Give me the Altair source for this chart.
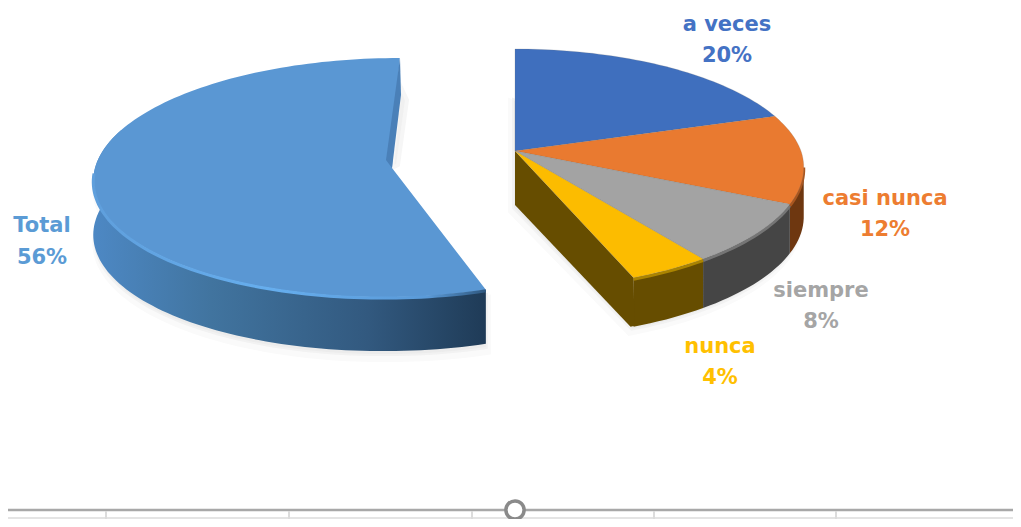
import math
import altair as alt

# Chart values
categories = ["a veces", "casi nunca", "siempre", "nunca", "Total"]
shares = [20, 12, 8, 4, 56]
percent_labels = ["20%", "12%", "8%", "4%", "56%"]
top_colors = ["#3f6fbe", "#e97a30", "#a3a3a3", "#fcbc00", "#5a97d3"]
wall_colors = ["#2c4f8c", "#6e3710", "#454545", "#664d00", "#2f5880"]
bevel_colors = ["#3f6fbe", "#a9561f", "#757575", "#ab8400", "#5a97d3"]
label_colors = ["#4472c4", "#ed7d31", "#a5a5a5", "#ffc000", "#5b9bd5"]
label_x = [727, 885, 821, 720, 42]
label_y = [25, 199, 291, 347, 226]
value_y = [56, 230, 322, 378, 258]
grid_ticks = [106, 289, 472, 654, 836]

OFF = 8  # page margin


def rim_point(turn, cx, cy, c, a, k, shear=0.0, squeeze=1.0, shear_low=0.0):
    """Position on the tilted disc rim for a fraction of a full turn (clockwise from top)."""
    t = 2 * math.pi * (1 - (1 - turn) * squeeze)
    u, v = math.sin(t), -math.cos(t)
    den = 1 + k * v
    y = a * v / den
    x = c * u / den + shear * y + shear_low * max(y, 0)
    return [cx + x - OFF, cy + y - OFF]


def rim(start, end, **p):
    n = max(2, int(abs(end - start) * 240))
    return [rim_point(start + (end - start) * i / n, **p) for i in range(n + 1)]


def shift(points, dx, dy):
    return [[x + dx, y + dy] for x, y in points]


def poly(points, **props):
    ring = list(points) + [points[0]]
    return {"type": "Feature", "properties": props,
            "geometry": {"type": "Polygon", "coordinates": [ring]}}


def line(points, **props):
    return {"type": "Feature", "properties": props,
            "geometry": {"type": "LineString", "coordinates": points}}


RIGHT = dict(cx=515, cy=151, c=286, a=117.3, k=-0.15, shear_low=-0.03)
LEFT = dict(cx=392, cy=168, c=297, a=118.8, k=-0.08, shear=-0.07, squeeze=0.985)
DEPTH_R, DEPTH_L = 49, 54


def shapes(features, **mark):
    return alt.Chart(alt.Data(values=features)).mark_geoshape(**mark).project(
        type="identity", scale=1, translate=[0, 0]
    )


def colored(features, **mark):
    return shapes(features, **mark).encode(
        fill=alt.Fill("properties.color:N", scale=None, legend=None)
    )


# cumulative fractions
cum = [0]
for s in shares:
    cum.append(cum[-1] + s / 100)

apexR = [RIGHT["cx"] - OFF, RIGHT["cy"] - OFF]
apexL = [LEFT["cx"] - OFF, LEFT["cy"] - OFF]

# Shadows
r_outer = rim(0.27, cum[4], **RIGHT)
r_out_low = shift(r_outer, 0, DEPTH_R)
r_shadow = r_out_low + [[apexR[0], apexR[1] + 54], [apexR[0], apexR[1] - 55]]
l_outer = rim(cum[4], 0.8, **LEFT)
l_low = shift(l_outer, 0, DEPTH_L)
shadow_far = shapes(
    [poly(shift(r_shadow, -4, 6)), poly(shift(l_low + l_outer[::-1], 2, 8))],
    fill="#f6f6f6", stroke="#fafafa", strokeWidth=6,
)
shadow_near = shapes(
    [poly(shift(r_shadow, -2, 3)), poly(shift(l_low + l_outer[::-1], 1, 4))],
    fill="#ececec", stroke="#f2f2f2", strokeWidth=2,
)
shadow_sliver = shapes(
    [poly([[x - OFF, y - OFF] for x, y in [[400, 85], [407, 100], [398, 165], [392, 168]]])],
    fill="#f0f0f0", stroke="#f6f6f6", strokeWidth=4,
)

# Right pie side walls: outer wall of each slice, drawn back to front
walls = []
bevels = []
for i in (1, 2, 3):
    st = max(cum[i], 0.27)
    seg = rim(st, cum[i + 1], **RIGHT)
    walls.append(poly(seg + shift(seg, 0, DEPTH_R)[::-1], color=wall_colors[i]))
    bevels.append(line(shift(seg, 0, 1.5), color=bevel_colors[i]))
corner = rim_point(cum[4], **RIGHT)
corner_low = [corner[0] - 3, corner[1] + DEPTH_R]
face = poly([apexR, [apexR[0], apexR[1] + 54], corner_low, [corner[0] + 1, corner[1] + DEPTH_R - 1], corner],
            color=wall_colors[3])
wall_layer = colored(walls + [face], strokeWidth=0)
bevel_layer = shapes(bevels, filled=False, strokeWidth=3).encode(
    stroke=alt.Stroke("properties.color:N", scale=None, legend=None)
)

# Right pie top faces
tops = []
for i in range(4):
    seg = rim(cum[i], cum[i + 1], **RIGHT)
    tops.append(poly([apexR] + seg, color=top_colors[i]))
top_layer = colored(tops, stroke="#6f6f6f", strokeWidth=0.4, strokeOpacity=0.5)

# Total slice: outer wall with a left to right gradient
wall_total = shapes(
    [poly(l_outer + l_low[::-1])],
    fill=alt.Gradient(
        gradient="linear", x1=0, y1=0, x2=1, y2=0,
        stops=[
            alt.GradientStop(offset=0, color="#4d88c4"),
            alt.GradientStop(offset=0.3, color="#41749f"),
            alt.GradientStop(offset=0.7, color="#32597f"),
            alt.GradientStop(offset=1, color="#1f3b57"),
        ],
    ),
    strokeWidth=0,
)
top_total = shapes(
    [poly([apexL] + rim(cum[4], 1.0, **LEFT))], fill=top_colors[4], strokeWidth=0
)
sliver = shapes(
    [poly([[x - OFF, y - OFF] for x, y in [[400, 58], [401, 95], [392, 168], [386, 160]]])],
    fill="#4a80b8", strokeWidth=0,
)
bevel_total = shapes(
    [line(shift(rim(cum[4], 0.74, **LEFT), 0, 1))],
    filled=False,
    stroke=alt.Gradient(
        gradient="linear", x1=0, y1=0, x2=1, y2=0,
        stops=[
            alt.GradientStop(offset=0, color="#5f9fdc"),
            alt.GradientStop(offset=0.45, color="#66aeee"),
            alt.GradientStop(offset=0.85, color="#5a9ad8"),
            alt.GradientStop(offset=1, color="#2f5880"),
        ],
    ),
    strokeWidth=3,
)

# Direct labels
names = [{"t": c, "x": x - OFF, "y": y - OFF, "color": col}
         for c, x, y, col in zip(categories, label_x, label_y, label_colors)]
values = [{"t": c, "x": x - OFF, "y": y - OFF, "color": col}
          for c, x, y, col in zip(percent_labels, label_x, value_y, label_colors)]
text = (
    alt.Chart(alt.Data(values=names + values))
    .mark_text(font="DejaVu Sans", fontWeight="bold", fontSize=21, align="center", baseline="middle")
    .encode(
        x=alt.X("x:Q", scale=None, axis=None),
        y=alt.Y("y:Q", scale=None, axis=None),
        text="t:N",
        color=alt.Color("color:N", scale=None, legend=None),
    )
)

# Strip of sheet grid under the chart
h_lines = alt.Chart(alt.Data(values=[
    {"y": 518 - OFF, "x": 0, "x2": 1005, "c": "#e4e4e4", "w": 2},
    {"y": 510 - OFF, "x": 0, "x2": 1005, "c": "#a8a8a8", "w": 2.5},
])).mark_rule().encode(
    x=alt.X("x:Q", scale=None, axis=None),
    x2="x2:Q",
    y=alt.Y("y:Q", scale=None, axis=None),
    color=alt.Color("c:N", scale=None, legend=None),
    strokeWidth=alt.StrokeWidth("w:Q", scale=None, legend=None),
)
v_ticks = alt.Chart(alt.Data(values=[{"x": x - OFF, "y": 511 - OFF, "y2": 511} for x in grid_ticks])).mark_rule(
    color="#dcdcdc", strokeWidth=2
).encode(
    x=alt.X("x:Q", scale=None, axis=None),
    y=alt.Y("y:Q", scale=None, axis=None),
    y2="y2:Q",
)
knob = alt.Chart(alt.Data(values=[{"x": 515 - OFF, "y": 510 - OFF}])).mark_point(
    filled=True, fill="white", stroke="#8a8a8a", strokeWidth=3.5, size=330, opacity=1
).encode(
    x=alt.X("x:Q", scale=None, axis=None),
    y=alt.Y("y:Q", scale=None, axis=None),
)

chart = alt.layer(
    h_lines, v_ticks, knob,
    shadow_far, shadow_near, shadow_sliver,
    wall_layer, bevel_layer, top_layer,
    wall_total, top_total, sliver, bevel_total,
    text,
).properties(
    width=1005, height=511, padding=0, background="white",
    autosize=alt.AutoSizeParams(type="none"),
).configure_view(stroke=None)

chart.save("out.html", embed_options={"renderer": "svg", "actions": False})
